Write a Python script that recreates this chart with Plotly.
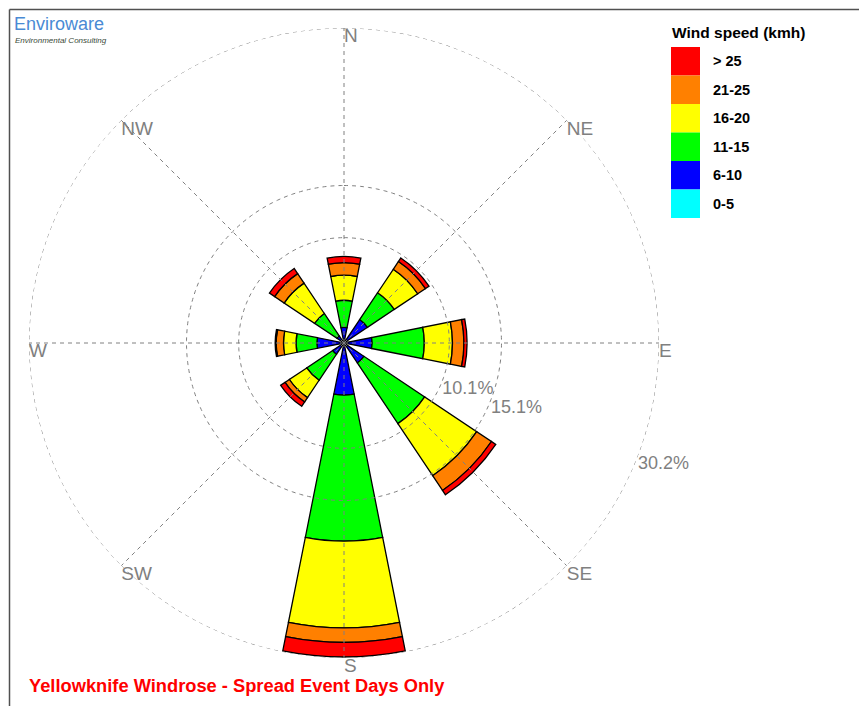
import plotly.graph_objects as go

# ---------------- data ----------------
directions = ["N", "NE", "E", "SE", "S", "SW", "W", "NW"]
dir_angles = [0, 45, 90, 135, 180, 225, 270, 315]

speed_classes = ["0-5", "6-10", "11-15", "16-20", "21-25", "> 25"]
class_colors = ["#00FFFF", "#0000FF", "#00FF00", "#FFFF00", "#FF8000", "#FF0000"]

# frequency (%) per direction, per wind-speed class
freq_0_5 = [0.1, 0.3, 0.2, 0.2, 0.1, 0.1, 0.2, 0.1]
freq_6_10 = [1.4, 2.4, 2.5, 2.1, 4.9, 1.2, 2.4, 0.7]
freq_11_15 = [2.6, 3.1, 5.0, 7.0, 14.0, 3.0, 2.0, 2.6]
freq_16_20 = [2.4, 2.7, 2.7, 6.0, 8.3, 2.0, 1.2, 3.5]
freq_21_25 = [1.2, 0.9, 1.1, 1.7, 1.4, 0.5, 0.7, 1.1]
freq_gt25 = [0.6, 0.4, 0.3, 0.5, 1.4, 0.5, 0.1, 0.6]
series = [freq_0_5, freq_6_10, freq_11_15, freq_16_20, freq_21_25, freq_gt25]

ring_values = [10.1, 15.1, 30.2]
ring_labels = ["10.1%", "15.1%", "30.2%"]
ring_label_angle = 111

# ---------------- layout helpers ----------------
W, H = 859, 706
CX, CY, RPX = 344, 343, 315
RMAX = ring_values[-1]
GRID = "#808080"
DASH = "4px,4px"


def px(x):
    return x / W


def py(y):
    return 1 - y / H


fig = go.Figure()

for name, vals, col in zip(speed_classes, series, class_colors):
    fig.add_trace(go.Barpolar(
        r=vals, theta=dir_angles, width=22.5, name=name,
        marker=dict(color=col, line=dict(color="black", width=1.3)),
        showlegend=False,
    ))

# dashed grid (rings + spokes) drawn over the bars, as in the original
ring_theta = list(range(0, 361, 1))
for rv in ring_values:
    fig.add_trace(go.Scatterpolar(
        r=[rv] * len(ring_theta), theta=ring_theta, mode="lines",
        line=dict(color=GRID, width=1, dash=DASH), cliponaxis=False,
        hoverinfo="skip", showlegend=False,
    ))

sp_theta, sp_r = [], []
for a in dir_angles:
    sp_theta += [a, a, None]
    sp_r += [0, RMAX, None]
fig.add_trace(go.Scatterpolar(
    r=sp_r, theta=sp_theta, mode="lines",
    line=dict(color=GRID, width=1, dash=DASH),
    hoverinfo="skip", showlegend=False,
))

# compass labels
fig.add_trace(go.Scatterpolar(
    r=[RMAX] * len(directions), theta=dir_angles, text=directions,
    mode="text", textposition="bottom right", cliponaxis=False,
    textfont=dict(family="Liberation Sans", size=19, color=GRID),
    hoverinfo="skip", showlegend=False,
))

# ring labels
fig.add_trace(go.Scatterpolar(
    r=ring_values, theta=[ring_label_angle] * len(ring_values), text=ring_labels,
    mode="text", textposition="bottom right", cliponaxis=False,
    textfont=dict(family="Liberation Sans", size=18, color=GRID),
    hoverinfo="skip", showlegend=False,
))

shapes = []
annotations = []

# frame
shapes.append(dict(type="line", xref="paper", yref="paper",
                   x0=px(9.5), x1=px(W), y0=py(9.5), y1=py(9.5),
                   line=dict(color="#505050", width=1.5)))
shapes.append(dict(type="line", xref="paper", yref="paper",
                   x0=px(9.5), x1=px(9.5), y0=py(9.5), y1=py(H),
                   line=dict(color="#505050", width=1.5)))

# custom legend
annotations.append(dict(text="<b>Wind speed (kmh)</b>", xref="paper", yref="paper",
                        x=px(670), y=py(32), xanchor="left", yanchor="middle",
                        showarrow=False,
                        font=dict(family="Liberation Sans", size=15.5, color="black")))
row_h = 28.5
top = 47
for i, (name, col) in enumerate(zip(speed_classes[::-1], class_colors[::-1])):
    y0 = top + i * row_h
    shapes.append(dict(type="rect", xref="paper", yref="paper",
                       x0=px(671), x1=px(700), y0=py(y0), y1=py(y0 + row_h),
                       fillcolor=col, line=dict(width=0)))
    annotations.append(dict(text="<b>%s</b>" % name, xref="paper", yref="paper",
                            x=px(711), y=py(y0 + row_h / 2), xanchor="left",
                            yanchor="middle", showarrow=False,
                            font=dict(family="Liberation Sans", size=14.5, color="black")))

# logo
annotations.append(dict(text="Enviroware", xref="paper", yref="paper",
                        x=px(12), y=py(24), xanchor="left", yanchor="middle",
                        showarrow=False,
                        font=dict(family="Liberation Sans", size=18, color="#4A8AD4")))
annotations.append(dict(text="<i>Environmental Consulting</i>", xref="paper", yref="paper",
                        x=px(13), y=py(40), xanchor="left", yanchor="middle",
                        showarrow=False,
                        font=dict(family="Liberation Sans", size=8, color="#3A4A3A")))

# caption
annotations.append(dict(text="<b>Yellowknife Windrose - Spread Event Days Only</b>",
                        xref="paper", yref="paper", x=px(27), y=py(685),
                        xanchor="left", yanchor="middle", showarrow=False,
                        font=dict(family="Liberation Sans", size=18.3, color="#FF0000")))

fig.update_layout(
    width=W, height=H,
    margin=dict(l=0, r=0, t=0, b=0),
    paper_bgcolor="white",
    showlegend=False,
    polar=dict(
        domain=dict(x=[px(CX - RPX), px(CX + RPX)], y=[py(CY + RPX), py(CY - RPX)]),
        bgcolor="white",
        barmode="stack",
        radialaxis=dict(range=[0, RMAX], showticklabels=False, ticks="",
                        showline=False, showgrid=False),
        angularaxis=dict(rotation=90, direction="clockwise", showticklabels=False,
                         ticks="", showline=False, showgrid=False),
    ),
    shapes=shapes,
    annotations=annotations,
)

fig.write_html("out.html", config={"displayModeBar": False},
               post_script="document.body.style.margin='0px';")
